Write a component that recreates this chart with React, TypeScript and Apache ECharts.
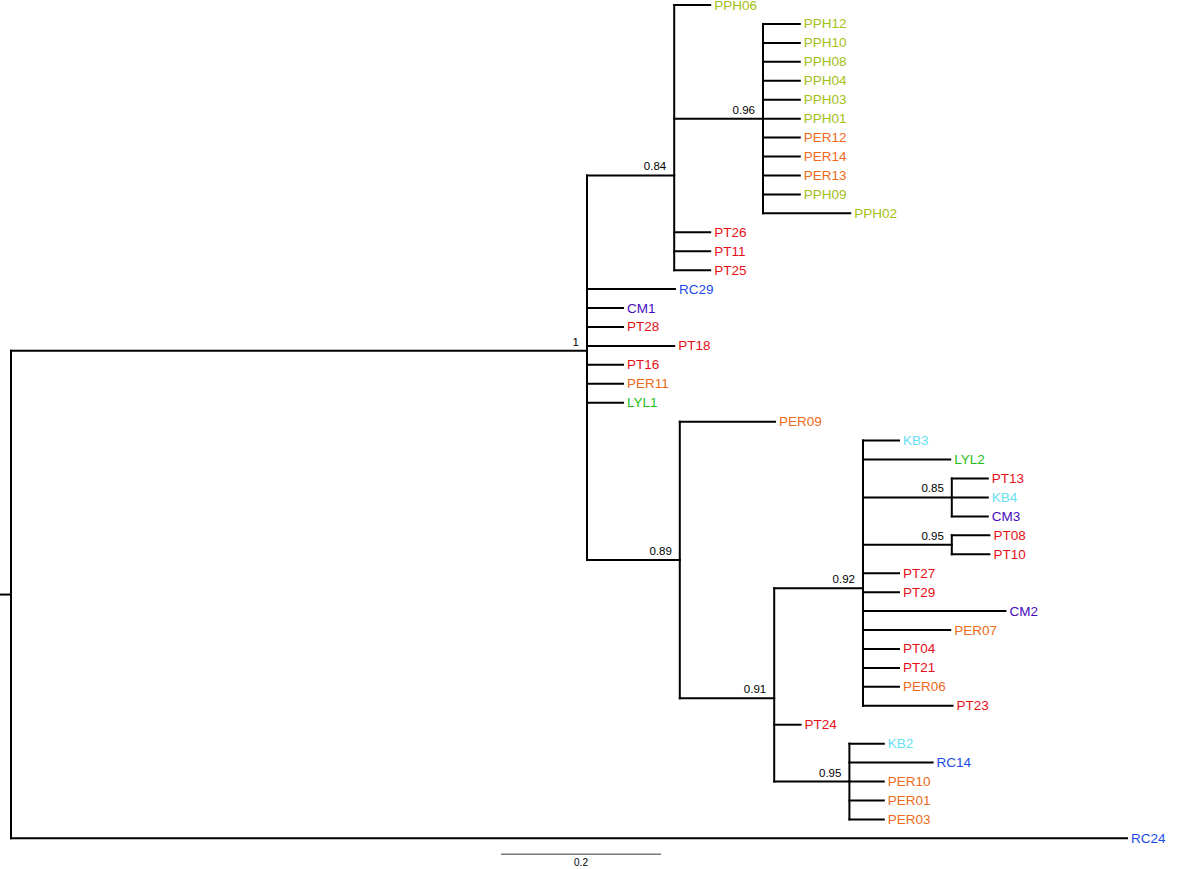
import React, { useEffect, useRef } from "react";
import * as echarts from "echarts";

// Tree edges: [child, parent, branch length]; children appear in drawing order
const edges: [string, string, number][] = [
  ["N1", "ROOT", 0.72],
  ["N084", "N1", 0.109],
  ["PPH06", "N084", 0.045],
  ["N096", "N084", 0.111],
  ["PPH12", "N096", 0.046],
  ["PPH10", "N096", 0.046],
  ["PPH08", "N096", 0.046],
  ["PPH04", "N096", 0.046],
  ["PPH03", "N096", 0.046],
  ["PPH01", "N096", 0.046],
  ["PER12", "N096", 0.046],
  ["PER14", "N096", 0.046],
  ["PER13", "N096", 0.046],
  ["PPH09", "N096", 0.046],
  ["PPH02", "N096", 0.109],
  ["PT26", "N084", 0.045],
  ["PT11", "N084", 0.045],
  ["PT25", "N084", 0.045],
  ["RC29", "N1", 0.11],
  ["CM1", "N1", 0.045],
  ["PT28", "N1", 0.045],
  ["PT18", "N1", 0.109],
  ["PT16", "N1", 0.045],
  ["PER11", "N1", 0.045],
  ["LYL1", "N1", 0.045],
  ["N089", "N1", 0.116],
  ["PER09", "N089", 0.119],
  ["N091", "N089", 0.118],
  ["N092", "N091", 0.111],
  ["KB3", "N092", 0.045],
  ["LYL2", "N092", 0.109],
  ["N085", "N092", 0.111],
  ["PT13", "N085", 0.045],
  ["KB4", "N085", 0.045],
  ["CM3", "N085", 0.045],
  ["N095a", "N092", 0.111],
  ["PT08", "N095a", 0.047],
  ["PT10", "N095a", 0.047],
  ["PT27", "N092", 0.045],
  ["PT29", "N092", 0.045],
  ["CM2", "N092", 0.178],
  ["PER07", "N092", 0.109],
  ["PT04", "N092", 0.045],
  ["PT21", "N092", 0.045],
  ["PER06", "N092", 0.045],
  ["PT23", "N092", 0.112],
  ["PT24", "N091", 0.033],
  ["N095b", "N091", 0.094],
  ["KB2", "N095b", 0.043],
  ["RC14", "N095b", 0.104],
  ["PER10", "N095b", 0.043],
  ["PER01", "N095b", 0.043],
  ["PER03", "N095b", 0.043],
  ["RC24", "ROOT", 1.395],
];

const supportNodes = ["N1", "N084", "N096", "N089", "N091", "N092", "N085", "N095a", "N095b"];
const supportValues = ["1", "0.84", "0.96", "0.89", "0.91", "0.92", "0.85", "0.95", "0.95"];

const groupPrefixes = ["PPH", "PER", "PT", "RC", "CM", "LYL", "KB"];
const groupColors = ["#a3c014", "#ee6a1a", "#e60f17", "#1a4ce8", "#450cbd", "#1cbf18", "#66e0f2"];

const rootStub = 0.014;
const scaleBarValue = 0.2;
const scaleBarStart = 0.6125;
const scaleBarRow = 44.84;
const scaleBarLabel = "0.2";

function colorFor(name: string): string {
  let best = -1;
  let bestLen = 0;
  groupPrefixes.forEach((p, i) => {
    if (name.startsWith(p) && p.length > bestLen) {
      best = i;
      bestLen = p.length;
    }
  });
  return best >= 0 ? groupColors[best] : "#000";
}

function layout() {
  const children: Record<string, string[]> = {};
  const len: Record<string, number> = {};
  edges.forEach(([c, p, l]) => {
    (children[p] = children[p] || []).push(c);
    len[c] = l;
  });
  const X: Record<string, number> = {};
  const Y: Record<string, number> = {};
  let leafIdx = 0;
  const leaves: string[] = [];
  const visit = (n: string, x: number) => {
    X[n] = x;
    const ch = children[n];
    if (!ch) {
      Y[n] = leafIdx++;
      leaves.push(n);
      return;
    }
    ch.forEach((c) => visit(c, x + len[c]));
    Y[n] = ch.reduce((s, c) => s + Y[c], 0) / ch.length;
  };
  visit("ROOT", 0);
  const segs: number[][] = [];
  edges.forEach(([c, p]) => segs.push([X[p], Y[c], X[c], Y[c]]));
  Object.keys(children).forEach((p) => {
    const ys = children[p].map((c) => Y[c]);
    segs.push([X[p], Math.min(...ys), X[p], Math.max(...ys)]);
  });
  segs.push([-rootStub, Y["ROOT"], 0, Y["ROOT"]]);
  return { X, Y, leaves, segs };
}

export default function App() {
  const ref = useRef<HTMLDivElement>(null);
  useEffect(() => {
    if (!ref.current) return;
    const chart = echarts.init(ref.current, null, { renderer: "svg" });
    const { X, Y, leaves, segs } = layout();
    const font = "'Liberation Sans', Arial, Helvetica, sans-serif";
    const supportData = supportNodes.map((n) => [X[n], Y[n]]);
    const option: any = {
      animation: false,
      backgroundColor: "#fff",
      grid: { left: 0, right: 0, top: 0, bottom: 0, containLabel: false },
      xAxis: { type: "value", min: -11 / 800, max: 1189 / 800, show: false },
      yAxis: { type: "value", inverse: true, min: -5 / 18.94, max: 864 / 18.94, show: false },
      series: [
        {
          type: "custom",
          clip: false,
          silent: true,
          encode: { x: [0, 2], y: [1, 3] },
          data: segs,
          renderItem: (params: any, api: any) => {
            const a = api.coord([api.value(0), api.value(1)]);
            const b = api.coord([api.value(2), api.value(3)]);
            return {
              type: "line",
              shape: { x1: a[0], y1: a[1], x2: b[0], y2: b[1] },
              style: { stroke: "#000", lineWidth: 2, lineCap: "square" },
            };
          },
        },
        {
          type: "scatter",
          silent: true,
          symbolSize: 0,
          data: leaves.map((n) => ({
            name: n,
            value: [X[n], Y[n]],
            label: { color: colorFor(n) },
          })),
          label: {
            show: true,
            position: "right",
            distance: 4,
            formatter: "{b}",
            fontSize: 13.5,
            fontFamily: font,
            textBorderWidth: 0,
            textBorderColor: "transparent",
            opacity: 1,
          },
        },
        {
          type: "custom",
          clip: false,
          silent: true,
          encode: { x: 0, y: 1 },
          data: supportData,
          renderItem: (params: any, api: any) => {
            const p = api.coord([api.value(0), api.value(1)]);
            return {
              type: "text",
              x: p[0] - 8,
              y: p[1] - 9,
              style: {
                text: supportValues[params.dataIndex],
                fill: "#000",
                fontSize: 11.5,
                fontFamily: font,
                align: "right",
                verticalAlign: "middle",
              },
            };
          },
        },
        {
          type: "custom",
          clip: false,
          silent: true,
          encode: { x: [0, 2], y: [1, 3] },
          data: [[scaleBarStart, scaleBarRow, scaleBarStart + scaleBarValue, scaleBarRow]],
          renderItem: (params: any, api: any) => {
            const a = api.coord([api.value(0), api.value(1)]);
            const b = api.coord([api.value(2), api.value(3)]);
            return {
              type: "group",
              children: [
                {
                  type: "line",
                  shape: { x1: a[0], y1: a[1], x2: b[0], y2: b[1] },
                  style: { stroke: "#7a7a7a", lineWidth: 1.5 },
                },
                {
                  type: "text",
                  x: (a[0] + b[0]) / 2,
                  y: a[1] + 8,
                  style: {
                    text: scaleBarLabel,
                    fill: "#000",
                    fontSize: 10,
                    fontFamily: font,
                    align: "center",
                    verticalAlign: "middle",
                  },
                },
              ],
            };
          },
        },
      ],
    };
    chart.setOption(option);
    return () => chart.dispose();
  }, []);
  return (
    <div
      ref={ref}
      style={{ position: "absolute", left: 0, top: 0, width: 1200, height: 869 }}
    />
  );
}
